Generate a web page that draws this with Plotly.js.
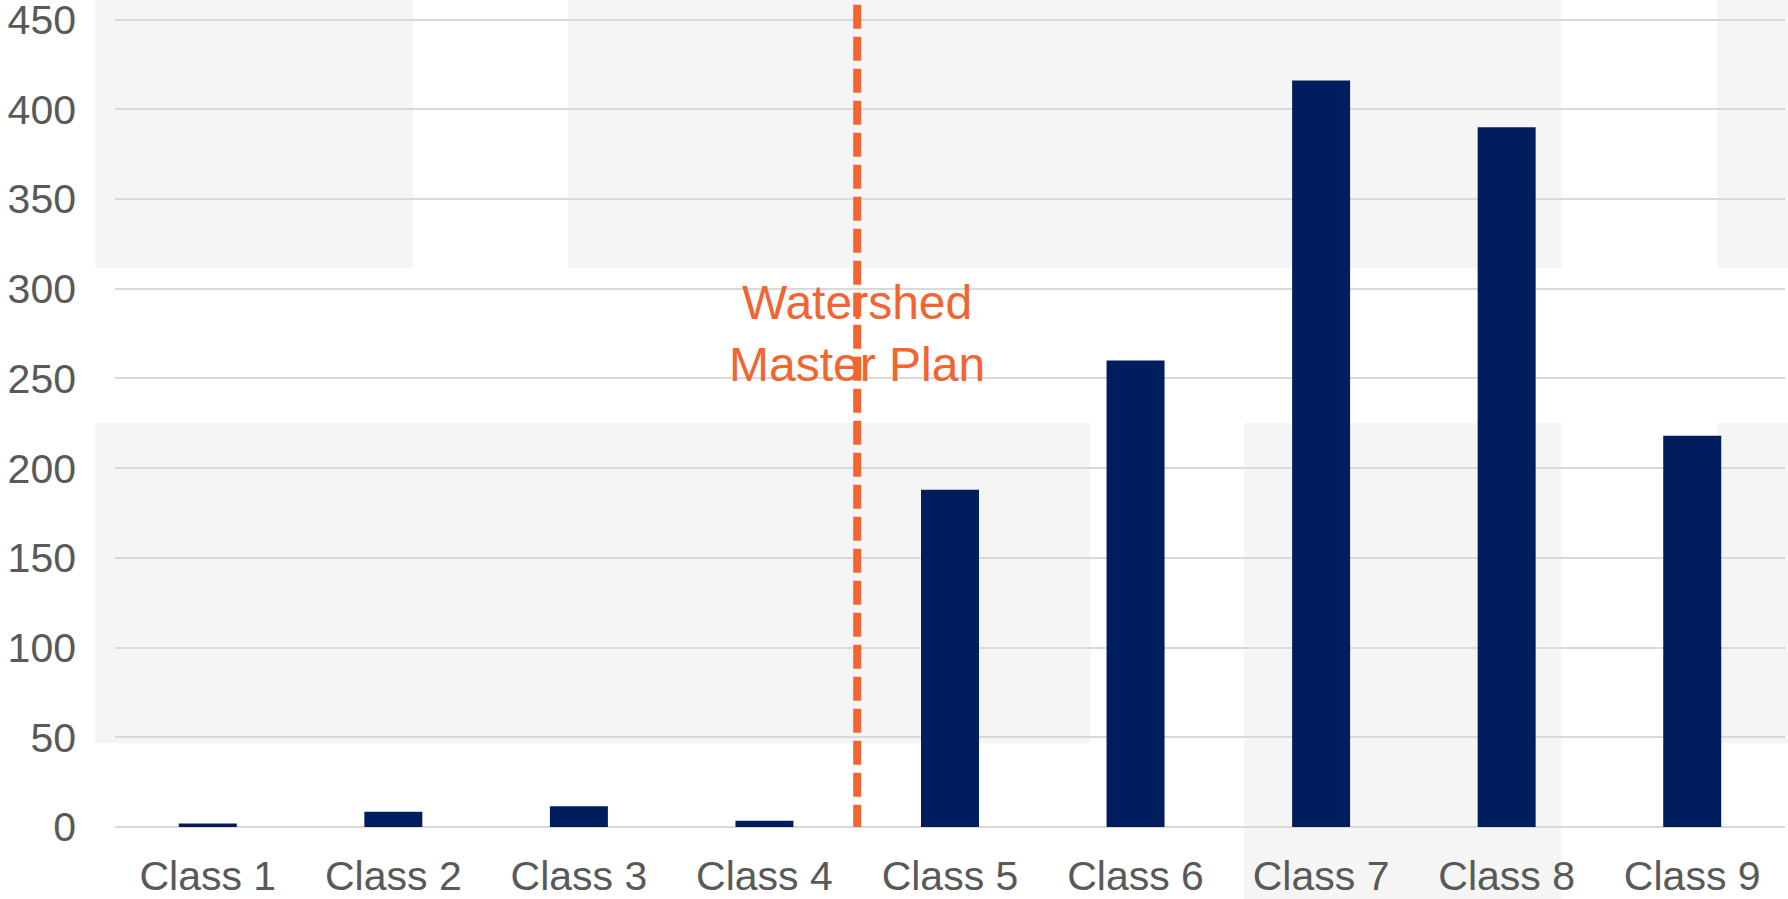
<!DOCTYPE html>
<html>
<head>
<meta charset="utf-8">
<script src="https://cdn.plot.ly/plotly-3.0.1.min.js"></script>
<style>
  html, body { margin: 0; padding: 0; background: #ffffff; }
  #chart { width: 1788px; height: 899px; }
</style>
</head>
<body>
<div id="chart"></div>
<script>
// ---- data ----
const categories = ["Class 1", "Class 2", "Class 3", "Class 4", "Class 5", "Class 6", "Class 7", "Class 8", "Class 9"];
const values = [2, 8.5, 11.5, 3.5, 188, 260, 416, 390, 218];
const yTickValues = [0, 50, 100, 150, 200, 250, 300, 350, 400, 450];
const markerText = "Watershed<br>Master Plan";
const markerPosition = 3.5; // between Class 4 and Class 5

// ---- decorative light-grey background blocks (layout only, paper coords) ----
const bgBlocks = [
  [-0.012, 0.1784, 0.6894, 1.03],
  [0.2713, 0.8662, 0.6894, 1.03],
  [0.9593, 1.005, 0.6894, 1.03],
  [-0.012, 0.5838, 0.1032, 0.498],
  [0.676, 0.8662, -0.1, 0.498],
  [0.9593, 1.005, 0.1032, 0.498]
];

const shapes = bgBlocks.map(b => ({
  type: "rect", xref: "paper", yref: "paper",
  x0: b[0], x1: b[1], y0: b[2], y1: b[3],
  fillcolor: "#F5F5F5", line: { width: 0 }, layer: "below"
}));

shapes.push({
  type: "line", xref: "x", yref: "paper",
  x0: markerPosition, x1: markerPosition, y0: 1.014, y1: 0,
  line: { color: "#F26430", width: 8, dash: "24px,8px" },
  layer: "above"
});

const trace = {
  type: "bar",
  x: categories,
  y: values,
  marker: { color: "#001E5E", line: { width: 0 } },
  hoverinfo: "x+y"
};

const tickFont = { family: "Liberation Sans, Arial, sans-serif", size: 41, color: "#595959" };

const layout = {
  width: 1788,
  height: 899,
  margin: { l: 115, r: 3, t: 16, b: 72, pad: 0 },
  paper_bgcolor: "#ffffff",
  plot_bgcolor: "rgba(0,0,0,0)",
  showlegend: false,
  bargap: 0.6875,
  xaxis: {
    type: "category",
    showgrid: false,
    zeroline: false,
    showline: false,
    ticks: "",
    tickfont: tickFont,
    ticklabelstandoff: 21,
    ticklabeloverflow: "allow",
    fixedrange: true
  },
  yaxis: {
    range: [0, 452],
    tickvals: yTickValues,
    ticktext: yTickValues.map(String),
    showgrid: true,
    gridcolor: "#D9D9D9",
    gridwidth: 2,
    zeroline: true,
    zerolinecolor: "#D9D9D9",
    zerolinewidth: 2,
    showline: false,
    ticks: "",
    tickfont: tickFont,
    ticklabelstandoff: 38,
    ticklabeloverflow: "allow",
    fixedrange: true
  },
  shapes: shapes,
  annotations: [{
    xref: "x", yref: "paper",
    x: markerPosition, y: 0.609,
    text: markerText,
    showarrow: false,
    align: "center",
    xanchor: "center", yanchor: "middle",
    font: { family: "Liberation Sans, Arial, sans-serif", size: 48, color: "#F26430" }
  }]
};

Plotly.newPlot("chart", [trace], layout, { displayModeBar: false, staticPlot: true });
</script>
</body>
</html>
